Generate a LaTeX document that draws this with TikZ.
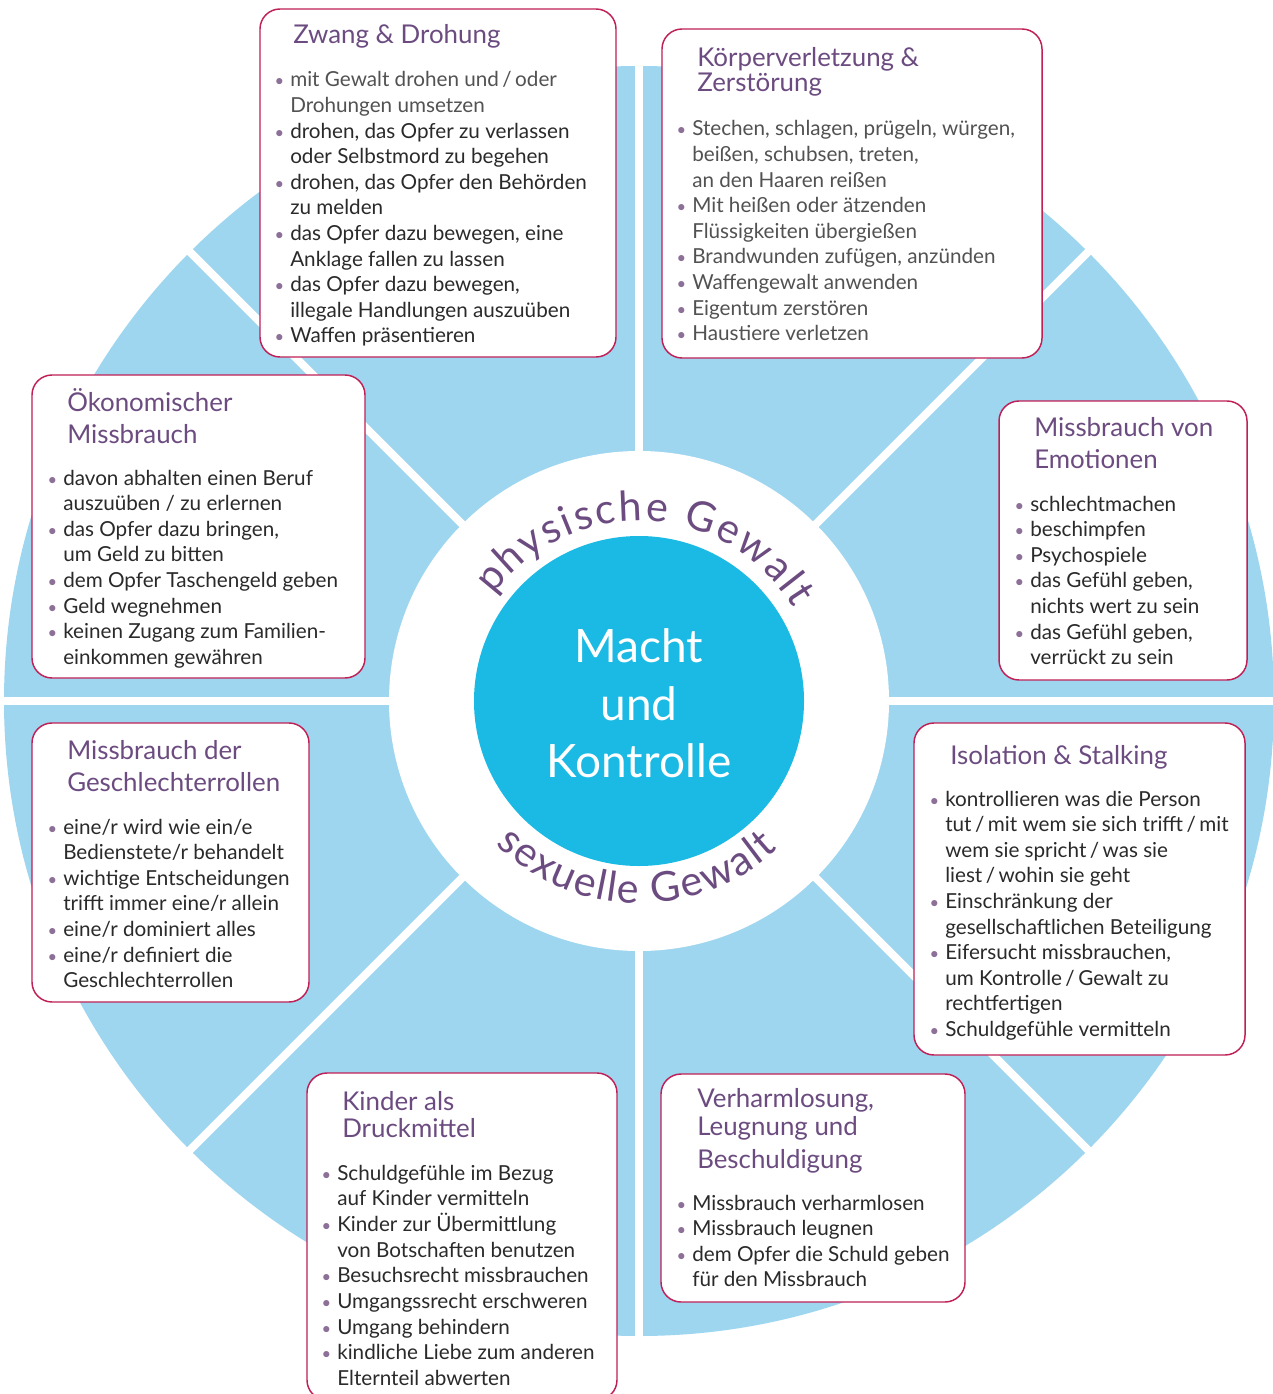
\documentclass[tikz,border=0pt]{standalone}
\usepackage{fontspec}
\setmainfont{Lato}
\usetikzlibrary{decorations.text,fit,calc}
\definecolor{wheelblue}{RGB}{158,214,240}
\definecolor{corecyan}{RGB}{26,186,228}
\definecolor{ttlpurple}{RGB}{108,76,128}
\definecolor{framered}{RGB}{192,32,86}
\definecolor{bodytxt}{RGB}{42,42,42}
\definecolor{bodygray}{RGB}{82,82,82}
\definecolor{dotc}{RGB}{140,112,152}
\newcommand\bt{\llap{\textcolor{dotc}{\scalebox{0.8}{•}}\hspace{4.5pt}}}
\newcommand\bodyfnt{\fontsize{15.5}{19.2}\selectfont}
\tikzset{
  panel/.style={draw=framered, line width=1.1pt, rounded corners=15pt, fill=white, inner sep=0pt},
  ttl/.style={anchor=base west, inner sep=0pt, text=ttlpurple, font=\fontsize{19.4}{22}\selectfont},
  bodytext/.style={anchor=base west, inner sep=0pt, text=bodytxt, font=\bodyfnt},
  coretxt/.style={anchor=base, inner sep=0pt, text=white, font=\fontsize{34.5}{40}\selectfont},
  spoke/.style={draw=white, line width=6pt},
}
\begin{document}
\begin{tikzpicture}[x=0.75pt,y=-0.75pt]
\useasboundingbox (0,0) rectangle (1272,1394);
\fill[white] (0,0) rectangle (1272,1394);
\coordinate (c) at (639,701);
% wheel
\node[circle, fill=wheelblue, minimum size=952.5pt, inner sep=0pt] (wheel) at (c) {};
\foreach \a in {0,45,90,135}
  \draw[spoke] ([shift={(\a:490pt)}]c) -- ([shift={(\a+180:490pt)}]c);
\node[circle, fill=white, minimum size=375pt, inner sep=0pt] (ring) at (c) {};
\node[circle, fill=corecyan, minimum size=247.5pt, inner sep=0pt] (core) at (c) {};
\node[coretxt] (m1) at (639,662) {Macht};
\node[coretxt] (m2) at (639,720) {und};
\node[coretxt] (m3) at (639,777) {Kontrolle};
% arc texts
\path[decorate, decoration={text along path, text align={fit to path},
  text={|\fontsize{31}{36}\selectfont\color{ttlpurple}|physische Gewalt}}]
  ([shift={(144:135pt)}]c) arc[start angle=144, end angle=31, radius=135pt];
\path[decorate, decoration={text along path, text align={fit to path},
  text={|\fontsize{31}{36}\selectfont\color{ttlpurple}|sexuelle Gewalt}}]
  ([shift={(-135:152pt)}]c) arc[start angle=-135, end angle=-47, radius=152pt];

% Box 1
\node[panel, fit={(260,9)(616,357)}] (b1) {};
\node[ttl] (b1t) at (293,44) {Zwang \& Drohung};
\node[bodytext] (b1b) at (290,87) {\begin{tabular}[t]{@{}l@{}}
\bt\textcolor{bodygray}{mit Gewalt drohen und\,/\,oder}\\
\textcolor{bodygray}{Drohungen umsetzen}\\
\bt drohen, das Opfer zu verlassen\\
oder Selbstmord zu begehen\\
\bt drohen, das Opfer den Behörden\\
zu melden\\
\bt das Opfer dazu bewegen, eine\\
Anklage fallen zu lassen\\
\bt das Opfer dazu bewegen,\\
illegale Handlungen auszuüben\\
\bt Waffen präsentieren
\end{tabular}};

% Box 2
\node[panel, fit={(662,29)(1042,358)}] (b2) {};
\node[ttl] (b2t1) at (697,67) {Körperverletzung \&};
\node[ttl] (b2t2) at (697,92) {Zerstörung};
\node[bodytext, text=bodygray] (b2b) at (692,136) {\begin{tabular}[t]{@{}l@{}}
\bt Stechen, schlagen, prügeln, würgen,\\
beißen, schubsen, treten,\\
an den Haaren reißen\\
\bt Mit heißen oder ätzenden\\
Flüssigkeiten übergießen\\
\bt Brandwunden zufügen, anzünden\\
\bt Waffengewalt anwenden\\
\bt Eigentum zerstören\\
\bt Haustiere verletzen
\end{tabular}};

% Box 3
\node[panel, fit={(32,375)(365,678)}] (b3) {};
\node[ttl] (b3t1) at (67,411) {Ökonomischer};
\node[ttl] (b3t2) at (67,443) {Missbrauch};
\node[bodytext] (b3b) at (63,485) {\begin{tabular}[t]{@{}l@{}}
\bt davon abhalten einen Beruf\\
auszuüben / zu erlernen\\
\bt das Opfer dazu bringen,\\
um Geld zu bitten\\
\bt dem Opfer Taschengeld geben\\
\bt Geld wegnehmen\\
\bt keinen Zugang zum Familien-\\
einkommen gewähren
\end{tabular}};

% Box 4
\node[panel, fit={(999,401)(1247,680)}] (b4) {};
\node[ttl] (b4t1) at (1034,436) {Missbrauch von};
\node[ttl] (b4t2) at (1034,468) {Emotionen};
\node[bodytext] (b4b) at (1030,511) {\begin{tabular}[t]{@{}l@{}}
\bt schlechtmachen\\
\bt beschimpfen\\
\bt Psychospiele\\
\bt das Gefühl geben,\\
nichts wert zu sein\\
\bt das Gefühl geben,\\
verrückt zu sein
\end{tabular}};

% Box 5
\node[panel, fit={(32,723)(309,1002)}] (b5) {};
\node[ttl] (b5t1) at (67,759) {Missbrauch der};
\node[ttl] (b5t2) at (67,791) {Geschlechterrollen};
\node[bodytext] (b5b) at (63,834) {\begin{tabular}[t]{@{}l@{}}
\bt eine/r wird wie ein/e\\
Bedienstete/r behandelt\\
\bt wichtige Entscheidungen\\
trifft immer eine/r allein\\
\bt eine/r dominiert alles\\
\bt eine/r definiert die\\
Geschlechterrollen
\end{tabular}};

% Box 6
\node[panel, fit={(914,723)(1245,1055)}] (b6) {};
\node[ttl] (b6t) at (950,764) {Isolation \& Stalking};
\node[bodytext] (b6b) at (945,806) {\begin{tabular}[t]{@{}l@{}}
\bt kontrollieren was die Person\\
tut\,/\,mit wem sie sich trifft\,/\,mit\\
wem sie spricht\,/\,was sie\\
liest\,/\,wohin sie geht\\
\bt Einschränkung der\\
gesellschaftlichen Beteiligung\\
\bt Eifersucht missbrauchen,\\
um Kontrolle\,/\,Gewalt zu\\
rechtfertigen\\
\bt Schuldgefühle vermitteln
\end{tabular}};

% Box 7
\node[panel, fit={(307,1073)(617,1400)}] (b7) {};
\node[ttl] (b7t1) at (342,1110) {Kinder als};
\node[ttl] (b7t2) at (342,1137) {Druckmittel};
\node[bodytext] (b7b) at (337,1180) {\begin{tabular}[t]{@{}l@{}}
\bt Schuldgefühle im Bezug\\
auf Kinder vermitteln\\
\bt Kinder zur Übermittlung\\
von Botschaften benutzen\\
\bt Besuchsrecht missbrauchen\\
\bt Umgangssrecht erschweren\\
\bt Umgang behindern\\
\bt kindliche Liebe zum anderen\\
Elternteil abwerten
\end{tabular}};

% Box 8
\node[panel, fit={(661,1074)(965,1302)}] (b8) {};
\node[ttl] (b8t1) at (697,1107) {Verharmlosung,};
\node[ttl] (b8t2) at (697,1135) {Leugnung und};
\node[ttl] (b8t3) at (697,1168) {Beschuldigung};
\node[bodytext] (b8b) at (692,1210) {\begin{tabular}[t]{@{}l@{}}
\bt Missbrauch verharmlosen\\
\bt Missbrauch leugnen\\
\bt dem Opfer die Schuld geben\\
für den Missbrauch
\end{tabular}};
\end{tikzpicture}
\end{document}
